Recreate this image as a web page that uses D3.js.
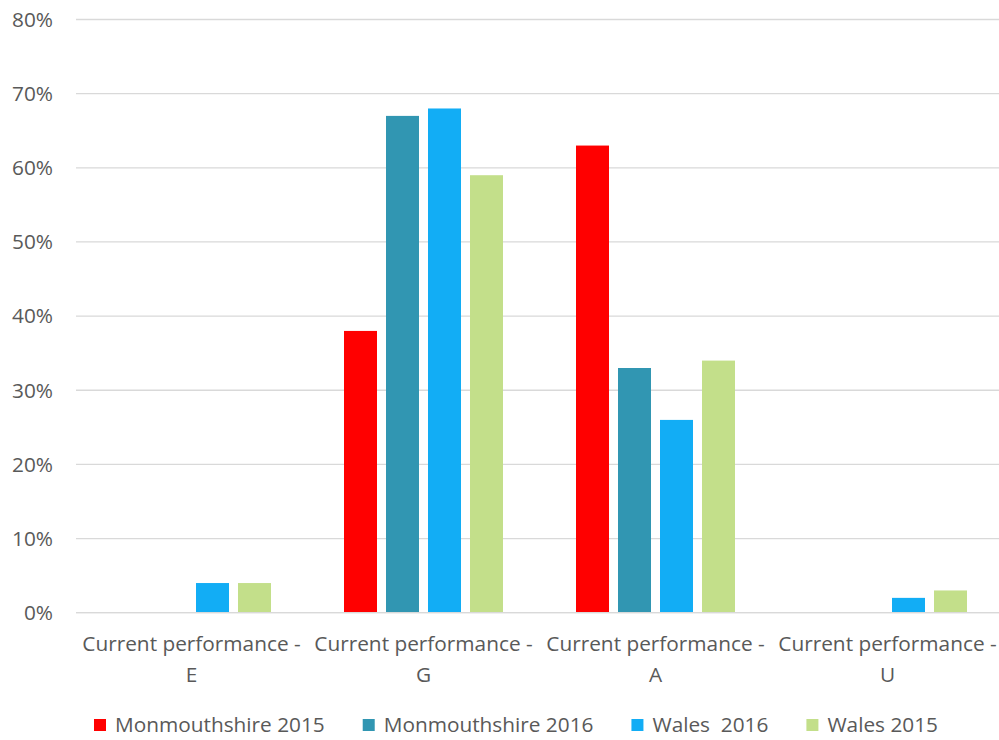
<!DOCTYPE html>
<html>
<head>
<meta charset="utf-8">
<script src="https://cdn.jsdelivr.net/npm/d3@7"></script>
<style>
  body { margin: 0; background: #fff; }
  text { font-family: 'Open Sans', sans-serif; fill: #595959; }
</style>
</head>
<body>
<div id="chart"></div>
<script>
// chart data
const categories = ['Current performance - E', 'Current performance - G', 'Current performance - A', 'Current performance - U']
const series = ['Monmouthshire 2015', 'Monmouthshire 2016', 'Wales  2016', 'Wales 2015']
const colors = ['#ff0000', '#3196b2', '#12adf5', '#c3df8a']
const values = [
  [0, 38, 63, 0],   // Monmouthshire 2015
  [0, 67, 33, 0],   // Monmouthshire 2016
  [4, 68, 26, 2],   // Wales 2016
  [4, 59, 34, 3]    // Wales 2015
]
const yTicks = [0, 10, 20, 30, 40, 50, 60, 70, 80]

const width = 999
const height = 740
const fontSize = '20.8px'
const gridLeft = 76

const svg = d3.select('#chart')
  .append('svg')
  .attr('width', width)
  .attr('height', height)

// band range runs a little past the right edge, like the original
const x0 = d3.scaleBand()
  .domain(categories)
  .range([75.5, 1003.5])
  .padding(0)

const x1 = d3.scaleBand()
  .domain(series)
  .range([0, x0.bandwidth()])
  .paddingInner(9 / 42)
  .paddingOuter(0.869)

const y = d3.scaleLinear()
  .domain([0, 80])
  .range([612.7, 19.5])

// gridlines
svg.append('g')
  .selectAll('line')
  .data(yTicks)
  .enter()
  .append('line')
  .attr('x1', gridLeft)
  .attr('x2', width)
  .attr('y1', d => y(d))
  .attr('y2', d => y(d))
  .style('stroke', '#d9d9d9')
  .style('stroke-width', 1.3)

// y tick labels
svg.append('g')
  .selectAll('text')
  .data(yTicks)
  .enter()
  .append('text')
  .attr('x', 53)
  .attr('y', d => y(d))
  .attr('dy', '0.35em')
  .attr('text-anchor', 'end')
  .style('font-size', fontSize)
  .text(d => d + '%')

// bars
const rows = []
categories.forEach((c, i) => {
  series.forEach((s, j) => {
    rows.push({ cat: c, ser: s, value: values[j][i], color: colors[j] })
  })
})

svg.append('g')
  .selectAll('rect')
  .data(rows.filter(d => d.value > 0))
  .enter()
  .append('rect')
  .attr('x', d => x0(d.cat) + x1(d.ser))
  .attr('y', d => y(d.value))
  .attr('width', x1.bandwidth())
  .attr('height', d => y(0) - y(d.value))
  .style('fill', d => d.color)

// axis line on top of bars
svg.append('line')
  .attr('x1', gridLeft)
  .attr('x2', width)
  .attr('y1', y(0))
  .attr('y2', y(0))
  .style('stroke', '#d9d9d9')
  .style('stroke-width', 1.3)

// category labels, two lines each
const catLabel = svg.append('g')
  .selectAll('text')
  .data(categories)
  .enter()
  .append('text')
  .attr('text-anchor', 'middle')
  .style('font-size', fontSize)

catLabel.append('tspan')
  .attr('x', d => x0(d) + x0.bandwidth() / 2)
  .attr('y', 651)
  .text(d => d.slice(0, d.lastIndexOf('-') + 1))

catLabel.append('tspan')
  .attr('x', d => x0(d) + x0.bandwidth() / 2)
  .attr('y', 682)
  .text(d => d.slice(d.lastIndexOf('-') + 2))

// legend
const legend = svg.append('g')
let lx = 94
series.forEach((s, j) => {
  legend.append('rect')
    .attr('x', lx)
    .attr('y', 719)
    .attr('width', 12)
    .attr('height', 12)
    .style('fill', colors[j])
  const t = legend.append('text')
    .attr('x', lx + 21)
    .attr('y', 732)
    .style('font-size', fontSize)
    .style('white-space', 'pre')
    .attr('xml:space', 'preserve')
    .text(s)
  lx += 21 + t.node().getComputedTextLength() + 38
})
</script>
</body>
</html>
